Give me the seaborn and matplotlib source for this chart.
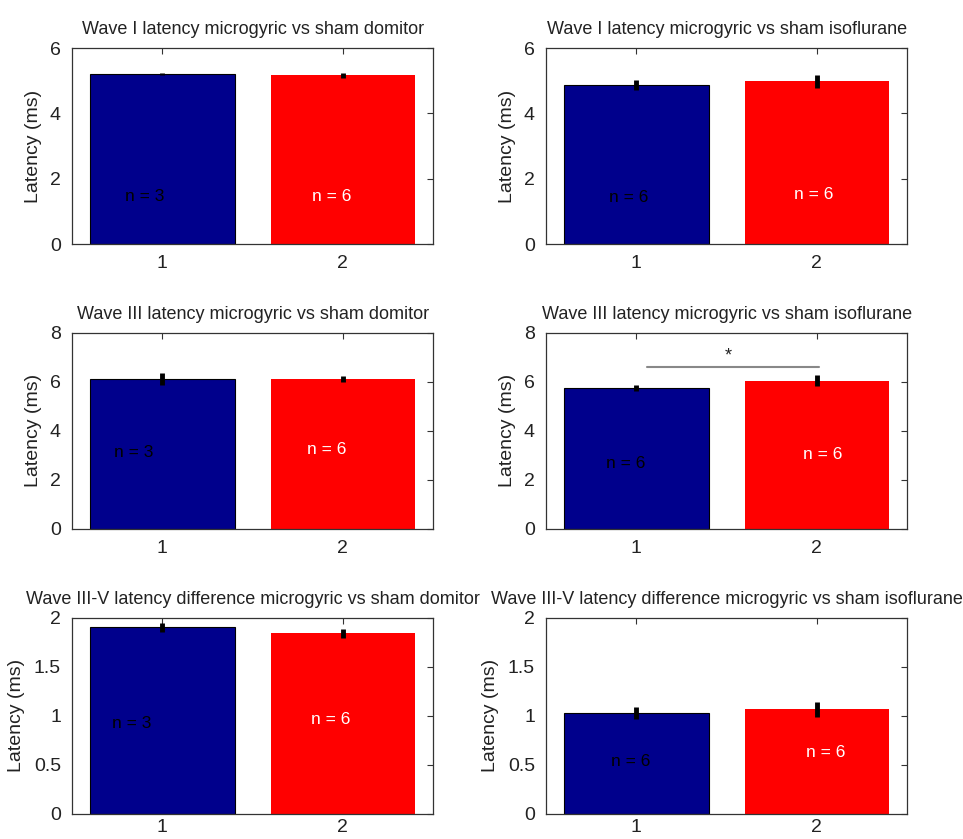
import matplotlib
matplotlib.use("Agg")
import matplotlib.pyplot as plt
import seaborn as sns
import pandas as pd

sns.set_theme(style="white")
plt.rcParams['font.family'] = ['Liberation Sans', 'DejaVu Sans']

groups = ["1", "2"]
titles = [
    "Wave I latency microgyric vs sham domitor",
    "Wave I latency microgyric vs sham isoflurane",
    "Wave III latency microgyric vs sham domitor",
    "Wave III latency microgyric vs sham isoflurane",
    "Wave III-V latency difference microgyric vs sham domitor",
    "Wave III-V latency difference microgyric vs sham isoflurane",
]
means = [
    [5.21, 5.17],
    [4.87, 4.98],
    [6.10, 6.10],
    [5.76, 6.05],
    [1.90, 1.84],
    [1.03, 1.065],
]
errors = [
    [0.04, 0.08],
    [0.14, 0.19],
    [0.24, 0.13],
    [0.12, 0.22],
    [0.05, 0.045],
    [0.06, 0.075],
]
n_labels = [
    ["n = 3", "n = 6"],
    ["n = 6", "n = 6"],
    ["n = 3", "n = 6"],
    ["n = 6", "n = 6"],
    ["n = 3", "n = 6"],
    ["n = 6", "n = 6"],
]
n_pos = [
    [(0.90, 1.47), (1.94, 1.47)],
    [(0.96, 1.44), (1.98, 1.53)],
    [(0.84, 3.12), (1.91, 3.24)],
    [(0.94, 2.67), (2.03, 3.05)],
    [(0.83, 0.92), (1.93, 0.96)],
    [(0.97, 0.53), (2.05, 0.625)],
]
ymax = [6, 6, 8, 8, 2, 2]
yticks = [[0, 2, 4, 6], [0, 2, 4, 6], [0, 2, 4, 6, 8], [0, 2, 4, 6, 8],
          [0, 0.5, 1, 1.5, 2], [0, 0.5, 1, 1.5, 2]]
ytick_labels = [["0", "2", "4", "6"], ["0", "2", "4", "6"],
                ["0", "2", "4", "6", "8"], ["0", "2", "4", "6", "8"],
                ["0", "0.5", "1", "1.5", "2"], ["0", "0.5", "1", "1.5", "2"]]
colors = ["#00008C", "#FF0000"]
text_colors = ["black", "white"]

fig = plt.figure(figsize=(9.63, 8.39), dpi=100)
lefts = [0.0748, 0.567]
bottoms = [0.709, 0.3698, 0.0302]
W, H = 0.375, 0.2336

for i in range(6):
    r, c = divmod(i, 2)
    ax = fig.add_axes([lefts[c], bottoms[r], W, H])
    df = pd.DataFrame({"group": groups, "latency": means[i]})
    sns.barplot(data=df, x="group", y="latency", hue="group", palette=colors,
                width=0.8, errorbar=None, legend=False, ax=ax, saturation=1)
    for j, p in enumerate(ax.patches):
        if j == 0:
            p.set_edgecolor("black")
            p.set_linewidth(0.8)
        else:
            p.set_edgecolor(colors[1])
            p.set_linewidth(0)
    ax.errorbar([0, 1], means[i], yerr=errors[i], fmt="none", ecolor="black",
                elinewidth=3.5, capsize=0, zorder=5)
    for j in range(2):
        x, y = n_pos[i][j]
        ax.text(x - 1, y, n_labels[i][j], color=text_colors[j], fontsize=12.5,
                ha="center", va="center")
    ax.set_xlim(-0.5, 1.5)
    ax.set_ylim(0, ymax[i])
    ax.set_yticks(yticks[i])
    ax.set_yticklabels(ytick_labels[i])
    ax.set_xticks([0, 1])
    ax.set_xticklabels(groups)
    ax.set_xlabel("")
    ax.set_ylabel("Latency (ms)", fontsize=14, color="#222222", labelpad=6)
    ax.set_title(titles[i], fontsize=13, color="#222222", pad=10)
    ax.tick_params(direction="in", top=True, right=True, length=4, width=0.8,
                   labelsize=14, colors="#333333", labelcolor="#222222")
    ax.tick_params(axis="x", pad=(4 if r == 2 else 8))
    ax.tick_params(axis="y", pad=8)
    for s in ax.spines.values():
        s.set_visible(True)
        s.set_color("#333333")
        s.set_linewidth(0.9)
    if i == 3:
        ax.plot([0.06, 1.01], [6.6, 6.6], color="#888888", linewidth=1.5)
        ax.text(0.51, 7.05, "*", ha="center", va="center", fontsize=13,
                color="#222222")

fig.savefig("out.png", dpi=100)
